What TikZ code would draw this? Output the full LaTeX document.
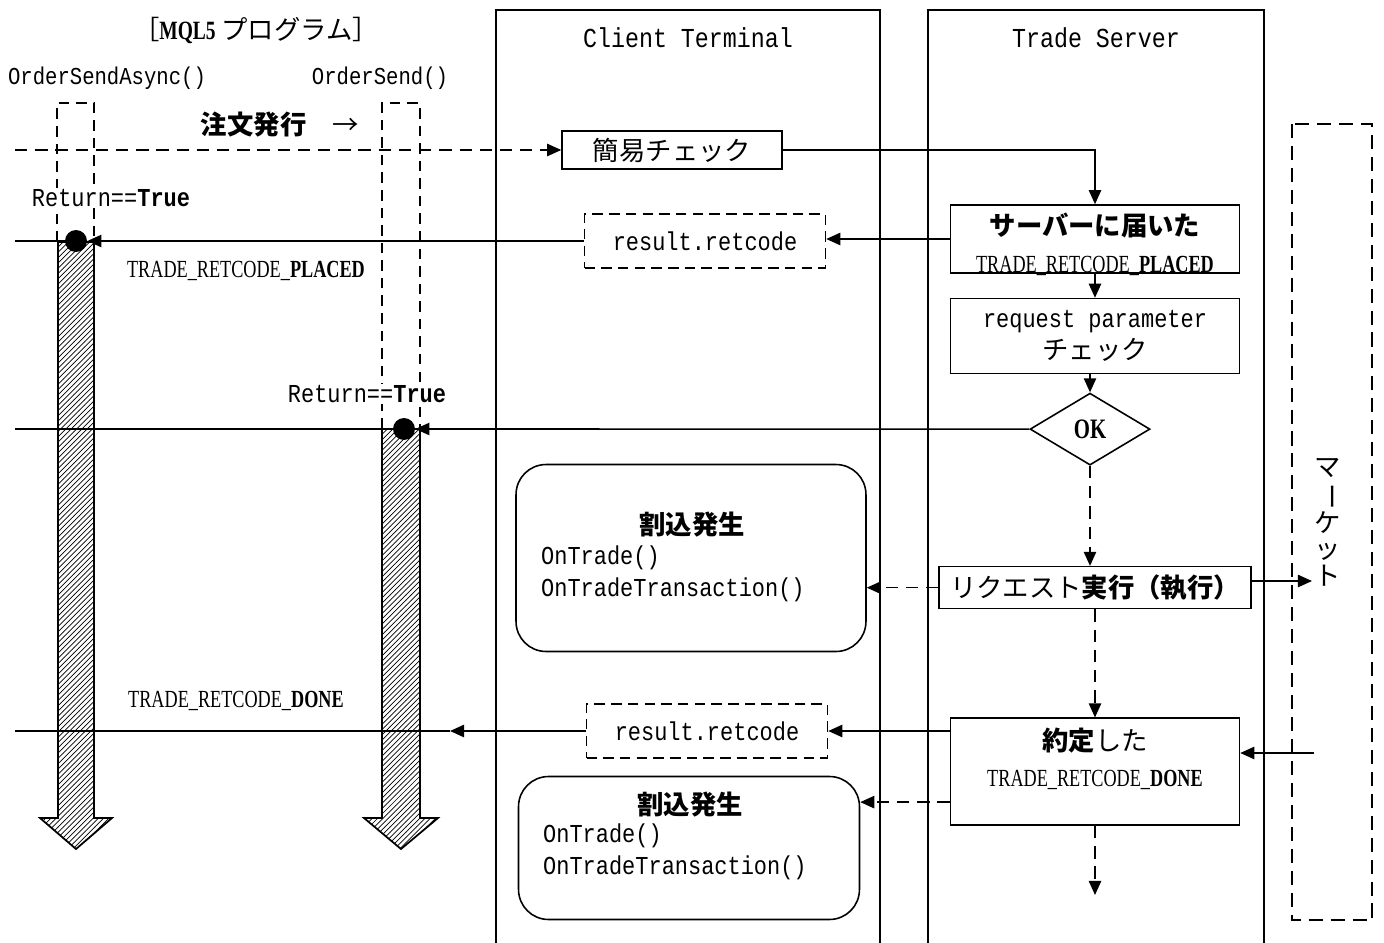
\documentclass[tikz,border=0pt]{standalone}
\usepackage{fontspec}
\setmainfont{Liberation Mono}[FakeStretch=0.85]
\newfontfamily\jp{Noto Sans CJK JP}
\newfontfamily\nar[FakeStretch=0.74]{Liberation Serif}
\usetikzlibrary{arrows.meta,positioning,shapes.geometric,patterns,calc}

\begin{document}
\begin{tikzpicture}[
    x=0.02cm, y=-0.02cm,
    font=\fontsize{14.7}{18}\selectfont,
    jtext/.style={font=\jp\fontsize{15}{18}\selectfont},
    ntext/.style={font=\nar\fontsize{14}{18}\selectfont},
    stepbox/.style={rectangle, draw, line width=0.9pt, inner sep=1pt, align=center, minimum width=5.78cm},
    retbox/.style={rectangle, draw, line width=0.9pt, dash pattern=on 6pt off 3.5pt, minimum width=4.82cm, minimum height=1.08cm},
    event/.style={rectangle, draw, line width=0.9pt, rounded corners=0.6cm},
    flow/.style={-{Triangle[length=8pt,width=7pt]}, line width=0.9pt},
    dflow/.style={flow, dash pattern=on 7pt off 4.5pt},
    link/.style={line width=0.9pt},
    dot/.style={circle, fill, inner sep=0pt, minimum size=0.44cm},
    bar/.style={draw, line width=1pt, pattern=north east lines},
    lifeline/.style={line width=0.8pt, dash pattern=on 6pt off 4pt},
    lane/.style={line width=0.8pt},
    retlabel/.style={fill=white, inner sep=1pt}
]
\useasboundingbox (0,0) rectangle (1384,943);

% Lanes
\draw[lane] (496,943) -- (496,10) -- (880,10) -- (880,943);
\draw[lane] (928,943) -- (928,10) -- (1264,10) -- (1264,943);
\draw[line width=1.4pt, dash pattern=on 8pt off 4.5pt] (1292,124) rectangle (1372,920);
\node[font=\fontsize{15.6}{18}\selectfont] (ct) at (688,38) {Client Terminal};
\node[font=\fontsize{15.6}{18}\selectfont] (ts) at (1096,38) {Trade Server};
\node[font=\jp\fontsize{15}{15}\selectfont, align=center] (mkt) at (1328,522) {マ\\\rotatebox[origin=c]{-90}{ー}\\ケ\\ッ\\ト};

% MQL5 program
\node[jtext] (prog) at (256,30) {［{\nar\bfseries MQL5} プログラム］};
\node[font=\fontsize{13.8}{16}\selectfont] (async) at (107,78) {OrderSendAsync()};
\node[font=\fontsize{13.8}{16}\selectfont] (sync) at (380,78) {OrderSend()};
\draw[lifeline] (57,242) -- (57,103) -- (94,103) -- (94,242);
\draw[lifeline] (382,429) -- (382,103) -- (420,103) -- (420,429);
\draw[bar] (58,242) -- (58,818) -- (40,818) -- (76,849) -- (112,818) -- (94,818) -- (94,242) -- cycle;
\draw[bar] (382,429) -- (382,818) -- (364,818) -- (401,849) -- (438,818) -- (420,818) -- (420,429) -- cycle;
\node[jtext] (order) at (280,125) {{\bfseries 注文発行}\quad →};
\node[retlabel] (retA) at (111,198) {Return==\textbf{True}};
\node[retlabel] (retB) at (367,394) {Return==\textbf{True}};
\node[ntext] (placed) at (246,271) {TRADE\_RETCODE\_\textbf{PLACED}};
\node[ntext] (doneL) at (236,701) {TRADE\_RETCODE\_\textbf{DONE}};
\node[dot] (dotA) at (76,241) {};
\node[dot] (dotB) at (404,429) {};

% Client terminal
\node[draw, line width=0.9pt, minimum width=4.4cm, minimum height=0.76cm, jtext] (check) at (672,150) {簡易チェック};
\node[retbox] (ret1) at (705,241) {result.retcode};
\node[retbox] (ret2) at (707,731) {result.retcode};
\node[event, minimum width=7cm, minimum height=3.74cm] (irq1) at (691,558) {};
\node[jtext] (irq1h) at (692,525) {\bfseries 割込発生};
\node[anchor=west, align=left] (irq1f) at (535,574) {OnTrade()\\OnTradeTransaction()};
\node[event, minimum width=6.82cm, minimum height=2.86cm] (irq2) at (689,848) {};
\node[jtext] (irq2h) at (690,805) {\bfseries 割込発生};
\node[anchor=west, align=left] (irq2f) at (537,852) {OnTrade()\\OnTradeTransaction()};

% Trade server
\node[stepbox, minimum height=1.36cm, inner ysep=0pt, text depth=0pt, font=\jp\fontsize{15}{21}\selectfont] (arrived) at (1095,239)
    {\rule{0pt}{17pt}{\bfseries サーバーに届いた}\\{\nar\fontsize{14}{21}\selectfont TRADE\_RETCODE\_\textbf{PLACED}}};
\node[stepbox, minimum height=1.5cm, below=0.48cm of arrived] (param)
    {request parameter\\{\jp\fontsize{15}{18}\selectfont チェック}};
\node[diamond, draw, line width=0.9pt, aspect=1.67, inner sep=0pt, minimum width=2.4cm, minimum height=1.44cm, font=\nar\fontsize{16}{18}\selectfont, below=0.36cm of param, xshift=-0.1cm] (ok) {\textbf{OK}};
\node[stepbox, minimum width=6.24cm, minimum height=0.84cm, jtext, below=2cm of ok, xshift=0.1cm] (exec) {リクエスト{\bfseries 実行（執行）}};
\node[stepbox, minimum height=2.14cm, below=2.16cm of exec] (done) {};
\node[align=center, font=\jp\fontsize{15}{20.5}\selectfont] (donetxt) at ($(done)+(0,-13)$)
    {{\bfseries 約定}した\\{\nar\fontsize{14}{20.5}\selectfont TRADE\_RETCODE\_\textbf{DONE}}};

% Free ends
\coordinate (lOrd) at (15,150);
\coordinate (lA) at (15,241);
\coordinate (lB) at (15,429);
\coordinate (lC) at (15,731);
\coordinate (tipC) at (450,731);
\coordinate (mktIn) at (1312,581);
\coordinate (mktOut) at (1314,753);
\coordinate (cont) at (1086,895);
\coordinate (dOut) at ($(done.south west)!0.22!(done.north west)$);

% Messages
\draw[dflow] (lOrd) -- (check.west);
\draw[flow] (check.east) -| (arrived.north);
\draw[flow] (arrived.south) -- (param.north);
\draw[flow] (param.south -| ok.north) -- (ok.north);
\draw[flow] (arrived.west) -- (arrived.west -| ret1.east);
\draw[flow] (ret1.west) -- (dotA.east);
\draw[link] (lA) -- (dotA);
\draw[flow] (ok.west) -- (dotB.east);
\draw[link] (lB) -- (dotB);
\draw[dflow] (ok.south) -- (ok.south |- exec.north);
\draw[dflow] (exec.west) -- (exec.west -| irq1.east);
\draw[flow] (exec.east |- mktIn) -- (mktIn);
\draw[dflow] (exec.south) -- (done.north);
\draw[flow] (ret2.east -| done.west) -- (ret2.east);
\draw[flow] (ret2.west) -- (tipC);
\draw[link] (tipC) -- (lC);
\draw[flow] (mktOut) -- (mktOut -| done.east);
\draw[dflow] (dOut) -- (dOut -| irq2.east);
\draw[dflow] (done.south) -- (done.south |- cont);

\end{tikzpicture}
\end{document}
